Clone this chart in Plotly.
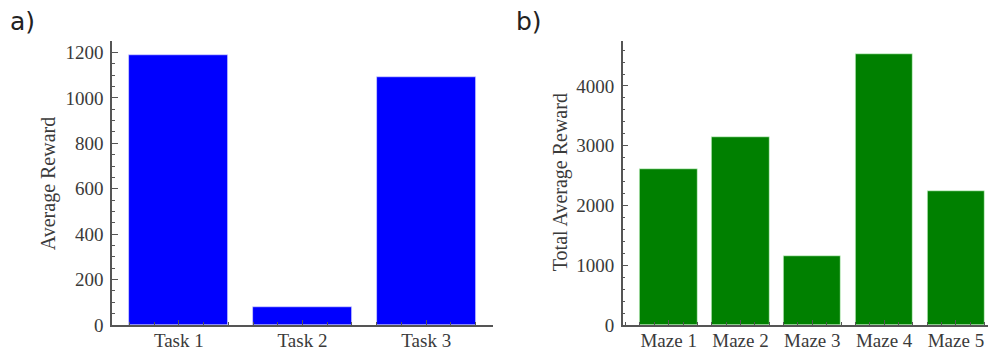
import plotly.graph_objects as go

# Data
tasks = ["Task 1", "Task 2", "Task 3"]
task_rewards = [1190, 80, 1090]

mazes = ["Maze 1", "Maze 2", "Maze 3", "Maze 4", "Maze 5"]
maze_rewards = [2600, 3140, 1160, 4540, 2245]

# page renders the figure shifted 8px right/down; map screen coords to figure coords
OFFX = 8
W, H = 996 - OFFX, 350


def px(x):
    return (x - OFFX) / W


def py(y):
    fy = (y - 8.5) / 0.97
    return (H - fy) / H


SERIF = "Liberation Serif"
TXT = "#3a3a3a"
AX = "#555555"

fig = go.Figure()
fig.add_trace(go.Bar(x=list(range(len(tasks))), y=task_rewards, width=0.8,
                     marker=dict(color="#0000ff", line=dict(color="rgba(220,220,255,0.8)", width=0.8)),
                     xaxis="x", yaxis="y", showlegend=False))
fig.add_trace(go.Bar(x=list(range(len(mazes))), y=maze_rewards, width=0.8,
                     marker=dict(color="#008000", line=dict(color="rgba(220,255,220,0.8)", width=0.8)),
                     xaxis="x2", yaxis="y2", showlegend=False))

ybot = py(326)
ytop = py(41.7)

common_x = dict(showline=True, linecolor=AX, linewidth=1.5, ticks="inside", ticklen=5,
                tickcolor=AX, tickwidth=1, showgrid=False, zeroline=False,
                tickfont=dict(family=SERIF, size=19, color=TXT), ticklabelstandoff=-3,
                minor=dict(ticks="inside", ticklen=3, tickcolor=AX, dtick=0.2, tick0=0, showgrid=False),
                layer="above traces")
common_y = dict(showline=True, linecolor=AX, linewidth=1.5, ticks="inside", ticklen=6,
                tickcolor=AX, tickwidth=1, showgrid=False, zeroline=False,
                tickfont=dict(family=SERIF, size=19, color=TXT), ticklabelstandoff=3,
                layer="above traces")

fig.update_layout(
    width=W, height=H, margin=dict(l=0, r=0, t=0, b=0),
    plot_bgcolor="white", paper_bgcolor="white", bargap=0,
    xaxis=dict(domain=[px(112), px(493)], range=[-0.54, 2.54],
               tickvals=list(range(len(tasks))), ticktext=tasks, anchor="y", **common_x),
    yaxis=dict(domain=[ybot, ytop], range=[0, 1250], dtick=200, anchor="x",
               minor=dict(ticks="inside", ticklen=3, tickcolor=AX, dtick=50, showgrid=False),
               **common_y),
    xaxis2=dict(domain=[px(622.7), 1.0], range=[-0.64, 4.558],
                tickvals=list(range(len(mazes))), ticktext=mazes, anchor="y2", **common_x),
    yaxis2=dict(domain=[ybot, ytop], range=[0, 4750], dtick=1000, anchor="x2",
                minor=dict(ticks="inside", ticklen=3, tickcolor=AX, dtick=200, showgrid=False),
                **common_y),
    annotations=[
        dict(text="Average Reward", x=px(48), y=py(185), xref="paper", yref="paper",
             textangle=-90, showarrow=False, xanchor="center", yanchor="middle",
             font=dict(family=SERIF, size=20, color=TXT)),
        dict(text="Total Average Reward", x=px(560), y=py(183), xref="paper", yref="paper",
             textangle=-90, showarrow=False, xanchor="center", yanchor="middle",
             font=dict(family=SERIF, size=20, color=TXT)),
        dict(text="a)", x=px(8), y=py(22), xref="paper", yref="paper", showarrow=False,
             xanchor="left", yanchor="middle", font=dict(family="DejaVu Sans", size=25, color="#222222")),
        dict(text="b)", x=px(514), y=py(22), xref="paper", yref="paper", showarrow=False,
             xanchor="left", yanchor="middle", font=dict(family="DejaVu Sans", size=25, color="#222222")),
    ],
)

fig.write_html("out.html")
